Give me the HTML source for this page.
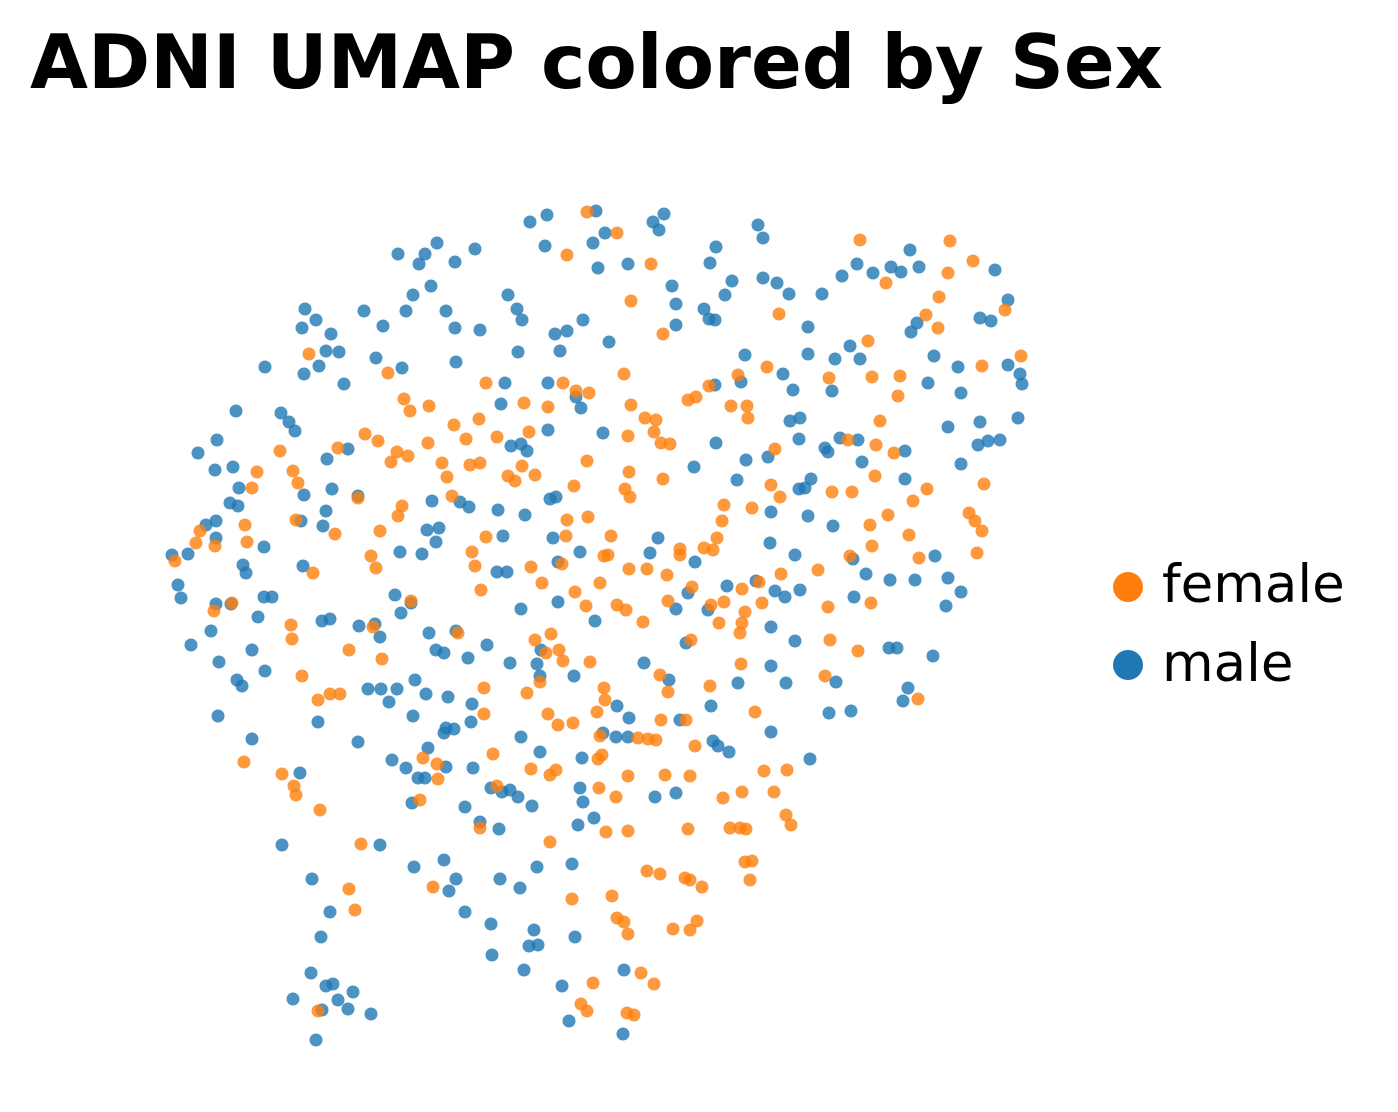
<!DOCTYPE html>
<html><head><meta charset="utf-8"><style>
html,body{margin:0;padding:0;background:#fff;}
svg{display:block;font-family:"DejaVu Sans","Liberation Sans",sans-serif;}
</style></head><body>
<svg id="chart" width="1398" height="1112" viewBox="0 0 1398 1112">
<text x="30" y="88" font-size="75" font-weight="bold" fill="#000" textLength="1133" lengthAdjust="spacingAndGlyphs">ADNI UMAP colored by Sex</text>
<g id="points"></g>
<g>
<circle cx="1128" cy="587" r="15" fill="#ff7f0e"/>
<text x="1162" y="602" font-size="53" fill="#000">female</text>
<circle cx="1128" cy="665" r="15" fill="#1f77b4"/>
<text x="1162" y="681" font-size="53" fill="#000">male</text>
</g>
</svg>
<script>
const categories = ["female","male"];
const colors = {female:"#ff7f0e", male:"#1f77b4"};
const malePts = [[530,222],[547,215],[596,211],[545,246],[593,243],[605,233],[598,268],[628,264],[653,222],[664,214],[659,230],[716,247],[710,263],[758,225],[763,238],[732,281],[763,278],[777,283],[789,294],[822,294],[842,276],[857,264],[873,273],[891,267],[910,250],[901,272],[919,267],[995,270],[1008,300],[980,318],[991,321],[398,254],[425,254],[437,243],[419,264],[455,262],[475,249],[431,286],[413,295],[446,311],[406,311],[364,311],[383,326],[305,309],[316,320],[302,328],[331,334],[326,351],[339,352],[304,374],[319,366],[344,384],[265,367],[376,358],[455,328],[480,330],[456,362],[402,368],[508,295],[517,309],[522,320],[518,352],[555,334],[567,331],[560,351],[583,320],[609,342],[672,286],[676,304],[704,309],[715,320],[709,319],[725,295],[676,325],[745,355],[741,382],[715,385],[808,327],[808,354],[793,390],[783,374],[835,359],[850,346],[860,359],[911,332],[917,323],[934,356],[958,367],[928,383],[961,393],[1008,365],[1020,374],[1022,384],[1018,418],[948,427],[988,441],[1000,440],[978,445],[961,464],[905,451],[905,479],[840,438],[858,440],[828,452],[825,448],[799,439],[800,418],[790,421],[832,391],[862,462],[805,488],[799,489],[808,516],[771,512],[746,460],[768,457],[737,480],[716,443],[694,467],[603,433],[581,408],[576,397],[548,383],[548,430],[501,404],[505,383],[511,446],[521,444],[527,451],[550,499],[525,515],[498,510],[503,536],[497,572],[507,572],[553,538],[580,552],[558,562],[521,609],[558,602],[595,621],[574,676],[537,664],[541,650],[540,676],[510,663],[487,645],[468,658],[444,653],[429,633],[436,650],[456,631],[395,595],[401,613],[411,603],[422,554],[400,552],[436,542],[427,530],[439,528],[432,501],[460,502],[469,507],[358,496],[348,449],[332,489],[304,495],[323,526],[326,511],[301,521],[264,547],[243,565],[246,573],[216,538],[216,521],[206,525],[188,554],[172,555],[178,585],[181,598],[191,645],[211,631],[219,662],[216,604],[231,604],[218,716],[237,680],[252,650],[258,617],[264,597],[265,671],[252,739],[242,686],[238,506],[230,503],[239,488],[233,467],[215,470],[198,453],[217,440],[236,411],[281,413],[289,422],[295,431],[327,459],[303,566],[322,621],[330,619],[359,626],[375,624],[368,689],[381,689],[389,702],[397,689],[415,680],[426,694],[413,716],[448,697],[472,704],[471,722],[454,729],[444,733],[428,748],[446,728],[392,760],[406,768],[418,778],[425,778],[446,767],[412,803],[473,768],[491,788],[502,792],[510,790],[518,797],[532,806],[499,829],[480,822],[465,807],[521,737],[540,752],[580,788],[583,802],[578,825],[594,818],[655,797],[676,793],[616,737],[628,737],[582,758],[603,733],[617,706],[629,718],[644,663],[669,680],[680,720],[711,706],[713,741],[718,746],[729,752],[738,683],[771,666],[771,732],[786,683],[810,759],[829,713],[851,711],[836,682],[854,597],[866,574],[853,559],[833,526],[811,479],[795,555],[785,597],[800,590],[771,627],[795,641],[775,591],[756,581],[727,586],[708,610],[688,593],[676,609],[695,562],[658,538],[650,553],[686,643],[770,543],[890,580],[915,580],[935,556],[948,578],[946,606],[961,592],[933,656],[897,648],[889,648],[903,701],[908,688],[980,422],[282,845],[300,773],[312,879],[330,912],[321,937],[311,973],[326,986],[333,984],[353,992],[338,1000],[348,1009],[322,1010],[293,999],[316,1040],[371,1014],[380,845],[414,867],[444,860],[456,879],[465,912],[449,891],[491,924],[492,955],[520,888],[500,879],[537,867],[534,930],[529,946],[538,945],[524,970],[562,986],[575,937],[572,864],[569,1021],[624,970],[623,1034],[318,722],[380,637],[358,742],[272,597],[556,497]];
const femalePts = [[587,212],[617,233],[567,255],[651,264],[631,301],[663,334],[779,314],[860,240],[950,241],[973,261],[948,273],[886,283],[939,297],[926,315],[938,328],[1005,310],[1021,356],[982,366],[868,341],[829,378],[872,377],[900,376],[898,396],[880,421],[876,445],[894,453],[875,476],[888,515],[852,492],[870,525],[872,546],[850,556],[871,603],[828,607],[830,640],[858,651],[825,676],[909,535],[913,501],[919,558],[927,489],[969,513],[975,521],[982,531],[977,553],[984,484],[918,699],[848,440],[832,492],[767,367],[738,375],[709,386],[696,397],[688,400],[731,406],[747,406],[748,418],[775,449],[771,485],[780,497],[752,508],[724,505],[722,521],[717,538],[713,550],[680,549],[680,555],[670,444],[663,479],[661,443],[656,420],[645,418],[654,432],[631,405],[624,374],[628,436],[589,393],[576,391],[563,383],[548,407],[529,432],[524,403],[522,466],[535,475],[515,481],[508,476],[486,383],[479,419],[497,437],[480,463],[470,465],[466,439],[454,425],[442,463],[447,477],[452,496],[428,443],[429,406],[410,411],[404,399],[397,452],[391,462],[408,456],[378,441],[365,434],[338,448],[358,498],[388,373],[309,354],[252,488],[257,472],[293,471],[298,483],[280,451],[296,520],[245,525],[247,542],[215,546],[200,531],[196,543],[175,561],[214,611],[232,603],[313,573],[335,534],[371,556],[376,568],[380,531],[402,506],[398,516],[291,625],[292,639],[302,676],[318,700],[330,694],[340,694],[349,650],[382,659],[373,627],[411,601],[458,633],[472,552],[475,566],[481,590],[486,537],[531,567],[542,583],[562,564],[575,592],[600,583],[604,556],[586,606],[629,569],[626,610],[617,605],[643,622],[647,569],[667,575],[668,601],[692,587],[704,548],[742,589],[745,612],[742,623],[740,633],[759,582],[762,603],[781,574],[818,570],[711,605],[724,602],[719,623],[691,640],[741,664],[755,712],[710,686],[660,675],[668,692],[686,720],[661,720],[648,739],[656,740],[638,738],[600,736],[598,759],[602,755],[573,723],[558,725],[548,714],[527,693],[540,682],[546,653],[551,634],[535,640],[559,650],[563,661],[590,662],[604,688],[605,700],[597,712],[484,688],[484,714],[438,779],[437,764],[423,758],[420,800],[493,754],[531,769],[550,775],[556,770],[599,788],[616,797],[628,776],[665,775],[690,776],[695,746],[723,798],[742,792],[764,771],[787,770],[774,792],[786,815],[791,825],[730,828],[740,828],[746,829],[745,862],[752,861],[750,880],[688,829],[685,878],[690,880],[702,887],[673,929],[690,930],[697,921],[660,874],[647,871],[628,831],[606,832],[612,896],[617,918],[624,922],[628,934],[641,973],[654,984],[634,1015],[627,1013],[593,983],[587,1011],[581,1004],[572,899],[550,842],[497,786],[433,887],[361,844],[349,889],[355,910],[318,1011],[296,795],[282,774],[294,786],[244,762],[320,810],[480,828],[587,461],[629,472],[625,489],[630,497],[574,486],[567,520],[588,517],[566,536],[611,536],[608,555]];
const xDomain = [0, 1398], yDomain = [0, 1112];
function xScale(v){ return (v - xDomain[0]) / (xDomain[1] - xDomain[0]) * 1398; }
function yScale(v){ return (v - yDomain[0]) / (yDomain[1] - yDomain[0]) * 1112; }
const g = document.getElementById('points');
function draw(pts, cat){
  pts.forEach(function(p){
    const c = document.createElementNS('http://www.w3.org/2000/svg','circle');
    c.setAttribute('cx', xScale(p[0]));
    c.setAttribute('cy', yScale(p[1]));
    c.setAttribute('r', 6.5);
    c.setAttribute('fill', colors[cat]);
    c.setAttribute('fill-opacity', 0.8);
    
    
    g.appendChild(c);
  });
}
draw(malePts, 'male');
draw(femalePts, 'female');
</script>
</body></html>
